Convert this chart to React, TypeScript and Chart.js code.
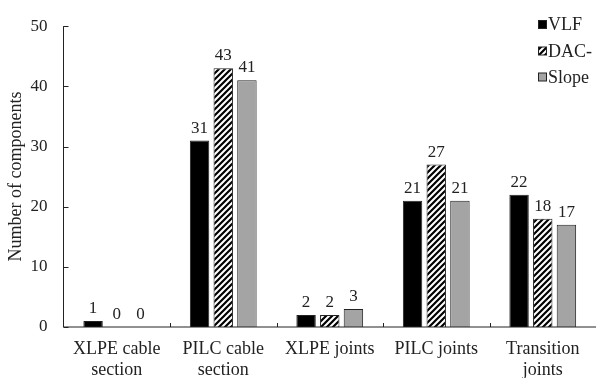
import React, { useEffect, useRef } from "react";
import { Chart, registerables } from "chart.js";

Chart.register(...registerables);

const categories: string[][] = [
  ["XLPE cable", "section"],
  ["PILC cable", "section"],
  ["XLPE joints"],
  ["PILC joints"],
  ["Transition", "joints"],
];
const seriesNames = ["VLF", "DAC-", "Slope"];
const vlfValues = [1, 31, 2, 21, 22];
const dacValues = [0, 43, 2, 27, 18];
const slopeValues = [0, 41, 3, 21, 17];
const yTicks = [0, 10, 20, 30, 40, 50];

const FONT = '"Liberation Serif", "Times New Roman", serif';
const TEXT = "#222";

function makeHatch(): CanvasPattern | string {
  const c = document.createElement("canvas");
  const s = 6;
  c.width = s;
  c.height = s;
  const ctx = c.getContext("2d");
  if (!ctx) return "#fff";
  ctx.fillStyle = "#fff";
  ctx.fillRect(0, 0, s, s);
  ctx.strokeStyle = "#000";
  ctx.lineWidth = 2.2;
  ctx.beginPath();
  ctx.moveTo(-1, s + 1);
  ctx.lineTo(s + 1, -1);
  ctx.moveTo(-2, 2);
  ctx.lineTo(2, -2);
  ctx.moveTo(s - 2, s + 2);
  ctx.lineTo(s + 2, s - 2);
  ctx.stroke();
  const p = ctx.createPattern(c, "repeat");
  return p || "#fff";
}

export default function App() {
  const ref = useRef<HTMLCanvasElement | null>(null);

  useEffect(() => {
    document.body.style.margin = "0";
    const canvas = ref.current;
    if (!canvas) return;
    const hatch = makeHatch();
    const fills: any[] = ["#000000", hatch, "#a4a4a4"];

    const axesPlugin = {
      id: "axesCustom",
      afterDraw(chart: any) {
        const ctx = chart.ctx;
        const { left, right, top, bottom } = chart.chartArea;
        const ys = chart.scales.y;
        const xs = chart.scales.x;
        ctx.save();
        ctx.strokeStyle = "#222";
        ctx.lineWidth = 1;
        ctx.beginPath();
        ctx.moveTo(left, top);
        ctx.lineTo(left, bottom);
        ctx.lineTo(right, bottom);
        yTicks.forEach((v) => {
          const y = Math.round(ys.getPixelForValue(v)) + 0.5;
          ctx.moveTo(left, y);
          ctx.lineTo(left + 5, y);
        });
        for (let i = 0; i < categories.length - 1; i++) {
          const x = Math.round((xs.getPixelForValue(i) + xs.getPixelForValue(i + 1)) / 2) + 0.5;
          ctx.moveTo(x, bottom);
          ctx.lineTo(x, bottom - 4);
        }
        ctx.stroke();

        // value labels
        ctx.fillStyle = TEXT;
        ctx.font = `17px ${FONT}`;
        ctx.textAlign = "center";
        ctx.textBaseline = "alphabetic";
        chart.data.datasets.forEach((ds: any, di: number) => {
          const meta = chart.getDatasetMeta(di);
          meta.data.forEach((el: any, i: number) => {
            ctx.fillText(String(ds.data[i]), el.x, el.y - 8);
          });
        });

        // legend
        ctx.font = `18px ${FONT}`;
        ctx.textAlign = "left";
        ctx.textBaseline = "middle";
        const centers = [24.5, 51, 77];
        chart.data.datasets.forEach((ds: any, di: number) => {
          const cy = centers[di];
          ctx.fillStyle = ds.backgroundColor;
          ctx.fillRect(538.5, cy - 4, 8, 8);
          ctx.strokeStyle = "#222";
          ctx.strokeRect(538.5, cy - 4, 8, 8);
          ctx.fillStyle = TEXT;
          ctx.fillText(ds.label, 548, cy + 1);
        });
        ctx.restore();
      },
    };

    const chart = new Chart(canvas, {
      type: "bar",
      data: {
        labels: categories,
        datasets: [vlfValues, dacValues, slopeValues].map((d, i) => ({
          label: seriesNames[i],
          data: d,
          backgroundColor: fills[i],
          borderColor: "#222",
          borderWidth: 1,
          categoryPercentage: 0.667,
          barPercentage: 0.82,
        })),
      },
      options: {
        animation: false,
        responsive: true,
        maintainAspectRatio: false,
        layout: { padding: { top: 20.7, right: 0, left: 0, bottom: 0 } },
        plugins: {
          legend: { display: false },
          tooltip: { enabled: false },
        },
        scales: {
          x: {
            grid: { display: false, drawTicks: false },
            border: { display: false },
            ticks: {
              color: TEXT,
              font: { family: FONT, size: 18, lineHeight: 1.15 },
              padding: 12,
              maxRotation: 0,
              autoSkip: false,
            },
            afterFit(scale: any) {
              scale.height = 51;
            },
          },
          y: {
            min: 0,
            max: 50,
            grid: { display: false, drawTicks: false },
            border: { display: false },
            ticks: {
              stepSize: 10,
              color: TEXT,
              font: { family: FONT, size: 17 },
              padding: 16,
            },
            title: {
              display: true,
              text: "Number of components",
              color: TEXT,
              font: { family: FONT, size: 18, lineHeight: 1.2 },
              padding: { top: 5.5, bottom: 0 },
            },
            afterFit(scale: any) {
              scale.width = 63.5;
            },
          },
        },
      },
      plugins: [axesPlugin],
    });
    return () => chart.destroy();
  }, []);

  return (
    <div style={{ position: "absolute", left: 0, top: 0, width: 596, height: 378 }}>
      <canvas ref={ref} />
    </div>
  );
}
